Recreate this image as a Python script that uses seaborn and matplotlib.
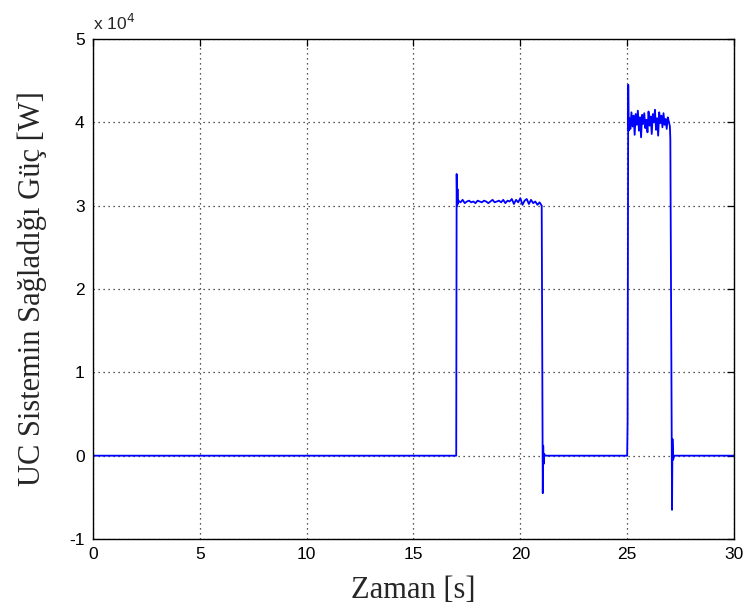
import numpy as np
import pandas as pd
import matplotlib
matplotlib.use("Agg")
import matplotlib.pyplot as plt
import seaborn as sns

# ---- data (power in units of 1e4 W) ----
t_pre = [0.0, 17.0, 17.02, 17.04, 17.06, 17.08]
p_pre = [0.0, 0.0, 3.38, 3.00, 3.20, 3.02]

t_plat1 = [17.1, 17.2, 17.3, 17.4, 17.5, 17.6, 17.7, 17.8, 17.9, 18.0,
           18.1, 18.2, 18.3, 18.4, 18.5, 18.6, 18.7, 18.8, 18.9, 19.0,
           19.1, 19.2, 19.3, 19.4, 19.5, 19.6, 19.7, 19.8, 19.9, 20.0,
           20.1, 20.2, 20.3, 20.4, 20.5, 20.6, 20.7, 20.8, 20.9]
p_plat1 = [3.06, 3.04, 3.07, 3.03, 3.05, 3.06, 3.04, 3.05, 3.03, 3.06,
           3.05, 3.04, 3.06, 3.05, 3.03, 3.05, 3.07, 3.04, 3.05, 3.06,
           3.04, 3.07, 3.03, 3.06, 3.05, 3.08, 3.02, 3.07, 3.04, 3.09,
           3.01, 3.06, 3.08, 3.02, 3.07, 3.03, 3.05, 3.01, 3.04]

t_mid = [21.0, 21.05, 21.07, 21.09, 21.12, 21.15, 25.0, 25.02, 25.05, 25.07]
p_mid = [3.00, -0.45, 0.12, -0.10, 0.02, 0.0, 0.0, 0.40, 4.45, 3.90]

t_plat2 = [25.10, 25.15, 25.20, 25.25, 25.30, 25.35, 25.40, 25.45, 25.50, 25.55,
           25.60, 25.65, 25.70, 25.75, 25.80, 25.85, 25.90, 25.95, 26.00, 26.05,
           26.10, 26.15, 26.20, 26.25, 26.30, 26.35, 26.40, 26.45, 26.50, 26.55,
           26.60, 26.65, 26.70, 26.75, 26.80, 26.85, 26.90, 26.95]
p_plat2 = [4.05, 3.92, 4.12, 3.95, 4.08, 3.85, 4.10, 3.97, 4.14, 3.90,
           4.06, 3.82, 4.09, 3.98, 4.11, 3.93, 4.03, 3.88, 4.13, 3.96,
           4.07, 3.86, 4.10, 4.00, 4.15, 3.91, 4.05, 3.84, 4.12, 3.99,
           4.08, 3.94, 4.11, 3.97, 4.04, 3.92, 4.06, 4.01]

t_post = [27.0, 27.02, 27.1, 27.12, 27.15, 27.2, 30.0]
p_post = [3.95, 3.80, -0.65, 0.20, -0.05, 0.0, 0.0]

x_ticks = [0, 5, 10, 15, 20, 25, 30]
y_ticks = [-1, 0, 1, 2, 3, 4, 5]

time = t_pre + t_plat1 + t_mid + t_plat2 + t_post
power = p_pre + p_plat1 + p_mid + p_plat2 + p_post
df = pd.DataFrame({"t": time, "p": power})

sns.set_style("white")
plt.rcParams["font.family"] = ["Liberation Sans", "DejaVu Sans"]

fig = plt.figure(figsize=(7.48, 6.13), dpi=100)
ax = fig.add_axes([0.1243, 0.1207, 0.857, 0.8157])

sns.lineplot(data=df, x="t", y="p", ax=ax, color="#0000ff", linewidth=1.3,
             estimator=None, sort=False)

ax.set_xlim(0, 30)
ax.set_ylim(-1, 5)
ax.set_xticks(x_ticks)
ax.set_yticks(y_ticks)
ax.set_xticklabels([str(v) for v in x_ticks], fontsize=12.5)
ax.set_yticklabels([str(v) for v in y_ticks], fontsize=12.5)
ax.grid(True, color="#222222", linestyle=(0, (1, 3)), linewidth=0.9)
ax.tick_params(direction="in", length=5, width=0.9, top=True, right=True,
               colors="black", pad=6)
for s in ax.spines.values():
    s.set_color("black")
    s.set_linewidth(1.0)
    s.set_visible(True)

ax.set_xlabel("Zaman [s]", fontsize=22, family=["Liberation Serif", "DejaVu Serif"],
              labelpad=10)
ax.set_ylabel("UC Sistemin Sağladığı Güç [W]", fontsize=22,
              family=["Liberation Serif", "DejaVu Serif"], labelpad=16)
ax.text(0.0, 1.012, "x 10$^4$", transform=ax.transAxes, fontsize=12.5,
        ha="left", va="bottom")

fig.savefig("out.png", dpi=100, facecolor="white")
